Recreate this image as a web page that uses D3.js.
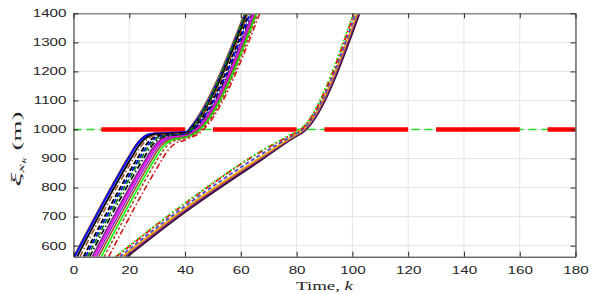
<!DOCTYPE html>
<html lang="en">
<head>
<meta charset="UTF-8">
<title>Trajectories</title>
<script src="https://d3js.org/d3.v7.min.js"></script>
<style>
  body { margin: 0; background: #fff; }
  .tick text { font-family: 'Liberation Sans', Arial, sans-serif; font-size: 10.5px; fill: #262626; }
  .lbl { font-family: 'Liberation Serif', 'DejaVu Serif', serif; fill: #262626; }
</style>
</head>
<body>
<div id="chart"></div>
<script>
// axis ticks
const xTicks = [0, 20, 40, 60, 80, 100, 120, 140, 160, 180];
const yTicks = [600, 700, 800, 900, 1000, 1100, 1200, 1300, 1400];

// stop line and red phases of the light, [from k, to k]
const stopLine = 1000;
const redPhases = [[10, 40], [50, 80], [90, 120], [130, 160], [170, 180]];

// vehicles released at the first green (k = 40), points [k, position]
const group1 = [
  [[0.0, 562], [20.3, 917], [22.3, 948], [24.3, 970], [26.3, 983], [28.3, 987], [40.5, 993], [42.0, 1010], [61.3, 1400]],
  [[0.4, 562], [20.6, 915], [22.6, 946], [24.6, 968], [26.6, 981], [28.6, 985], [40.5, 991], [42.2, 1008], [61.8, 1400]],
  [[1.3, 562], [21.4, 913], [23.4, 944], [25.4, 966], [27.4, 979], [29.4, 983], [40.5, 989], [42.4, 1006], [62.2, 1400]],
  [[2.3, 562], [22.2, 911], [24.2, 942], [26.2, 964], [28.2, 977], [30.2, 981], [40.5, 987], [42.6, 1004], [62.6, 1400]],
  [[3.6, 562], [23.4, 909], [25.4, 940], [27.4, 962], [29.4, 975], [31.4, 979], [40.5, 985], [42.8, 1002], [63.0, 1400]],
  [[4.3, 562], [24.1, 908], [26.1, 939], [28.1, 961], [30.1, 974], [32.1, 978], [40.5, 984], [43.0, 1001], [63.4, 1400]],
  [[5.0, 562], [24.7, 907], [26.7, 938], [28.7, 960], [30.7, 973], [32.7, 977], [40.5, 983], [42.3, 1003], [61.7, 1400]],
  [[5.8, 562], [25.4, 905], [27.4, 936], [29.4, 958], [31.4, 971], [33.4, 975], [40.5, 981], [43.3, 999], [64.0, 1400]],
  [[6.8, 562], [26.3, 903], [28.3, 934], [30.3, 956], [32.3, 969], [34.3, 973], [40.5, 979], [43.5, 997], [64.3, 1400]],
  [[7.5, 562], [26.9, 902], [28.9, 933], [30.9, 955], [32.9, 968], [34.9, 972], [40.5, 978], [43.7, 996], [64.6, 1400]],
  [[8.2, 562], [27.5, 900], [29.5, 931], [31.5, 953], [33.5, 966], [35.5, 970], [40.5, 976], [43.9, 994], [64.9, 1400]],
  [[9.0, 562], [28.3, 899], [30.3, 930], [32.3, 952], [34.3, 965], [36.3, 969], [40.5, 975], [44.1, 993], [65.3, 1400]],
  [[10.0, 562], [29.1, 897], [31.1, 928], [33.1, 950], [35.1, 963], [37.1, 967], [40.5, 973], [44.3, 991], [65.7, 1400]],
  [[11.0, 562], [30.0, 895], [32.0, 926], [34.0, 948], [36.0, 961], [38.0, 965], [40.5, 971], [44.5, 989], [66.1, 1400]],
  [[12.6, 562], [31.4, 891], [33.4, 922], [35.4, 944], [37.4, 957], [39.4, 961], [40.8, 967], [44.8, 985], [66.8, 1400]]
];
const group1Colors = ["#a0522d", "#0000ff", "#000000", "#a0522d", "#000000", "#0000ff", "#008000",
  "#000000", "#7e2f8e", "#ff00ff", "#9932cc", "#a0522d", "#00ff00", "#a0522d", "#d01818"];
const group1Dash = ["", "", "", "6,2.5,1.5,2.5", "5,2.5", "5,2.5", "5,2.5",
  "6,2.5,1.5,2.5", "", "", "", "", "", "3,2", "6,2.5,1.5,2.5"];
const group1Width = [1.2, 2, 1.8, 1.6, 1.8, 1.6, 1.6, 1.6, 2, 1.6, 1.6, 1.6, 1.6, 1.6, 1.6];

// vehicles released at the second green (k = 80)
const group2 = [
  [[15.0, 562], [40, 747], [66.9, 924], [79.0, 988], [80.6, 996], [100.3, 1400]],
  [[15.3, 562], [40, 745], [66.9, 922], [79.0, 986], [80.8, 995], [100.6, 1400]],
  [[16.6, 562], [40, 736], [66.9, 912], [79.3, 983], [81.2, 993], [101.2, 1400]],
  [[17.6, 562], [40, 728], [66.9, 903], [79.6, 981], [81.5, 992], [101.7, 1400]],
  [[18.4, 562], [40, 722], [66.9, 898], [79.8, 979], [81.8, 990], [102.1, 1400]],
  [[19.2, 562], [40, 716], [66.9, 893], [80.0, 978], [82.0, 989], [102.5, 1400]]
];
const group2Colors = ["#00ff00", "#ff0000", "#4a4ad0", "#f0a000", "#7e2f8e", "#3a0d3a"];
const group2Dash = ["1.5,2.5", "6,2.5,1.5,2.5", "4,2.5", "", "", ""];
const group2Width = [1.8, 1.8, 1.8, 1.8, 1.8, 2.2];

const W = 595, H = 294;
const x = d3.scaleLinear().domain([0, 180]).range([73.5, 575.5]);
const y = d3.scaleLinear().domain([562, 1400]).range([256.7, 13.3]);
const sx = 1.45; // text in the picture is stretched sideways

const svg = d3.select("#chart").append("svg")
  .attr("width", W).attr("height", H);

svg.append("clipPath").attr("id", "plot")
  .append("rect")
  .attr("x", x(0)).attr("y", y(1400))
  .attr("width", x(180) - x(0)).attr("height", y(562) - y(1400));

// grid
svg.append("g").selectAll("line").data(xTicks).join("line")
  .attr("x1", d => x(d)).attr("x2", d => x(d))
  .attr("y1", y(1400)).attr("y2", y(562))
  .attr("stroke", "#e4e4e4").attr("stroke-width", 1);
svg.append("g").selectAll("line").data(yTicks).join("line")
  .attr("x1", x(0)).attr("x2", x(180))
  .attr("y1", d => y(d)).attr("y2", d => y(d))
  .attr("stroke", "#e4e4e4").attr("stroke-width", 1);

const plot = svg.append("g").attr("clip-path", "url(#plot)");

// stop line: green dashed, red phases thick
plot.append("line")
  .attr("x1", x(0)).attr("x2", x(180))
  .attr("y1", y(stopLine)).attr("y2", y(stopLine))
  .attr("stroke", "#22dd22").attr("stroke-width", 1.5)
  .attr("stroke-dasharray", "8,5");
plot.append("g").selectAll("line").data(redPhases).join("line")
  .attr("x1", d => x(d[0])).attr("x2", d => x(d[1]))
  .attr("y1", y(stopLine)).attr("y2", y(stopLine))
  .attr("stroke", "#ff0000").attr("stroke-width", 4.5);

const line = d3.line()
  .x(d => x(d[0]))
  .y(d => y(d[1]))
  .curve(d3.curveMonotoneX);

function drawGroup(data, colors, dashes, widths) {
  plot.append("g").selectAll("path").data(data).join("path")
    .attr("d", line)
    .attr("fill", "none")
    .attr("stroke", (d, i) => colors[i])
    .attr("stroke-width", (d, i) => widths[i])
    .attr("stroke-dasharray", (d, i) => dashes[i] || null);
}
drawGroup(group2.slice().reverse(), group2Colors.slice().reverse(), group2Dash.slice().reverse(), group2Width.slice().reverse());
drawGroup(group1, group1Colors, group1Dash, group1Width);

// axes, ticks inside, box on all sides
function styleAxis(g) {
  g.select(".domain").attr("stroke", "#262626").attr("stroke-width", 1);
  g.selectAll(".tick line").attr("stroke", "#262626");
}
svg.append("g")
  .attr("transform", `translate(0,${y(562)})`)
  .call(d3.axisBottom(x).tickValues(xTicks).tickFormat(d3.format("d"))
    .tickSizeInner(-5).tickSizeOuter(0).tickPadding(10))
  .call(styleAxis)
  .call(g => g.selectAll(".tick text").attr("transform", `scale(${sx},1)`));
svg.append("g")
  .attr("transform", `translate(0,${y(1400)})`)
  .call(d3.axisTop(x).tickValues(xTicks).tickSizeInner(-5).tickSizeOuter(0).tickFormat(""))
  .call(styleAxis)
  .call(g => g.select(".domain").attr("stroke", "#8c8c8c").attr("stroke-width", 1.5));
svg.append("g")
  .attr("transform", `translate(${x(0)},0)`)
  .call(d3.axisLeft(y).tickValues(yTicks).tickFormat(d3.format("d"))
    .tickSizeInner(-5).tickSizeOuter(0).tickPadding(7))
  .call(styleAxis)
  .call(g => g.selectAll(".tick text").attr("x", -7 / sx).attr("transform", `scale(${sx},1)`));
svg.append("g")
  .attr("transform", `translate(${x(180)},0)`)
  .call(d3.axisRight(y).tickValues(yTicks).tickSizeInner(-5).tickSizeOuter(0).tickFormat(""))
  .call(styleAxis);

// x label
const xl = svg.append("text").attr("class", "lbl")
  .attr("text-anchor", "middle")
  .attr("transform", `translate(${(x(0) + x(180)) / 2},289.5) scale(${sx},1)`)
  .style("font-size", "13px");
xl.append("tspan").text("Time, ");
xl.append("tspan").style("font-style", "italic").text("k");

// y label, fitted into its box
const yl = svg.append("text").attr("class", "lbl").style("font-size", "16px");
yl.append("tspan").style("font-style", "italic").style("font-size", "19px").text("ξ");
yl.append("tspan").attr("dy", 4).style("font-size", "12px").style("font-style", "italic").text("x");
yl.append("tspan").attr("dy", 2.5).style("font-size", "8.5px").style("font-style", "italic").text("k");
yl.append("tspan").attr("dy", -6.5).text(" (m)");
const bb = yl.node().getBBox();
const labLen = 75, labThick = 19;
yl.attr("transform",
  `translate(18,149) rotate(-90) scale(${labLen / bb.width},${labThick / bb.height}) translate(${-bb.x - bb.width / 2},${-bb.y - bb.height / 2})`);
</script>
</body>
</html>
